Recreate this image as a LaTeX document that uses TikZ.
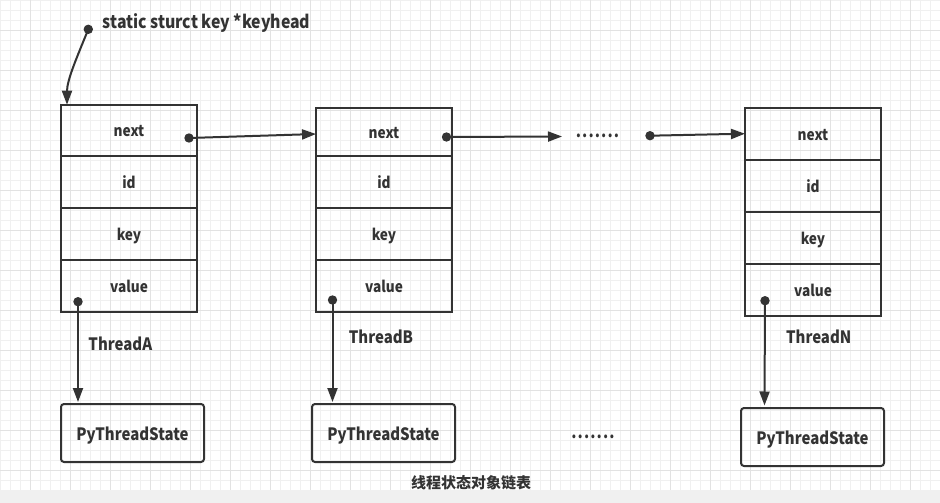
\documentclass[tikz,border=0pt]{standalone}
\usepackage{fontspec}
\setmainfont{Noto Sans CJK SC}
\newfontfamily\latinf{Noto Sans CJK SC}[FakeStretch=0.88]
\usetikzlibrary{arrows.meta}
\definecolor{linec}{HTML}{333333}
\definecolor{minorgrid}{HTML}{F0F0F0}
\definecolor{majorgrid}{HTML}{E2E2E2}
\definecolor{bandc}{HTML}{F0F0F0}
\tikzset{
  rowbox/.style={draw=linec, line width=2pt, minimum width=136pt, inner sep=0pt,
    text=linec, text height=12.6pt, text depth=0pt,
    font=\latinf\bfseries\fontsize{15.5}{18}\selectfont},
  psbox/.style={draw=linec, line width=2pt, rounded corners=3pt, minimum width=143pt,
    minimum height=58pt, inner sep=0pt, text=linec, text height=14pt, text depth=0pt,
    font=\latinf\bfseries\fontsize{17}{20}\selectfont},
  lbl/.style={text=linec, inner sep=0pt, font=\latinf\bfseries\fontsize{17}{20}\selectfont},
  arr/.style={draw=linec, line width=2pt, -{Triangle[length=14pt,width=10pt]}},
  dotc/.style={fill=linec},
}
\begin{document}
\begin{tikzpicture}[x=1pt,y=-1pt]
\useasboundingbox (0,0) rectangle (940,503);
% grid
\foreach \x in {0,10,...,940} \draw[minorgrid, line width=1pt] (\x+0.5,0) -- (\x+0.5,490);
\foreach \y in {0,10,...,490} \draw[minorgrid, line width=1pt] (0,\y+0.5) -- (940,\y+0.5);
\foreach \x in {30,70,...,940} \draw[majorgrid, line width=1pt] (\x+0.5,0) -- (\x+0.5,490);
\foreach \y in {30,70,...,490} \draw[majorgrid, line width=1pt] (0,\y+0.5) -- (940,\y+0.5);
\fill[bandc] (0,490) rectangle (940,503);

% head label
\node[lbl, anchor=west, font=\latinf\bfseries\fontsize{18}{21}\selectfont] (head) at (102.5,22.6) {static sturct key *keyhead};

% box A
\node[rowbox, minimum height=51.3pt] (a1) at (129,130.4) {next};
\node[rowbox, minimum height=52pt] (a2) at (129,182) {id};
\node[rowbox, minimum height=52pt] (a3) at (129,234) {key};
\node[rowbox, minimum height=52pt] (a4) at (129,286) {value};
% box B
\node[rowbox, minimum height=47.7pt] (b1) at (384,132.2) {next};
\node[rowbox, minimum height=51.7pt] (b2) at (384,181.9) {id};
\node[rowbox, minimum height=52pt] (b3) at (384,233.7) {key};
\node[rowbox, minimum height=52pt] (b4) at (384,285.7) {value};
% box N
\node[rowbox, minimum height=51.7pt] (n1) at (813,134.2) {next};
\node[rowbox, minimum height=52pt] (n2) at (813,186) {id};
\node[rowbox, minimum height=52pt] (n3) at (813,238) {key};
\node[rowbox, minimum height=51.7pt] (n4) at (813,289.9) {value};

% PyThreadState boxes
\node[psbox] (pa) at (132.5,433) {PyThreadState};
\node[psbox] (pb) at (383.5,433) {PyThreadState};
\node[psbox] (pn) at (812.5,437) {PyThreadState};

% thread labels
\node[lbl] (ta) at (120.3,343.5) {ThreadA};
\node[lbl] (tb) at (381,337.3) {ThreadB};
\node[lbl] (tn) at (818.7,337.3) {ThreadN};

% ellipses
\node[lbl] (e1) at (597.5,136) {.\hspace{1.1pt}.\hspace{1.1pt}.\hspace{1.1pt}.\hspace{1.1pt}.\hspace{1.1pt}.\hspace{1.1pt}.};
\node[lbl] (e2) at (593,437) {.\hspace{1.1pt}.\hspace{1.1pt}.\hspace{1.1pt}.\hspace{1.1pt}.\hspace{1.1pt}.\hspace{1.1pt}.};

% caption
\node[text=linec, inner sep=0pt, font=\bfseries\fontsize{15}{18}\selectfont] (cap) at (471,483) {线程状态对象链表};

% coordinates
\coordinate (hd) at (88.3,29.3);
\coordinate (ha) at (67,104.7);
\coordinate (dan) at (189,138);
\coordinate (tbn) at (316,134);
\coordinate (dbn) at (446.5,137);
\coordinate (fe) at (562,136.5);
\coordinate (de) at (650,135.7);
\coordinate (tnn) at (745,133.7);
\coordinate (dav) at (78,301.7);
\coordinate (dbv) at (332.5,300);
\coordinate (dnv) at (765,300.7);
\coordinate (pbt) at (332.5,402);
\coordinate (pnt) at (764.5,405.5);
\coordinate (pat) at (78,402);

% connectors
\draw[arr] (hd) .. controls (77,57) and (67,80) .. (ha);
\draw[arr] (dan) -- (tbn);
\draw[arr] (dbn) -- (fe);
\draw[arr] (de) -- (tnn);
\draw[arr] (dav) -- (pat);
\draw[arr] (dbv) -- (pbt);
\draw[arr] (dnv) -- (pnt);

% dots
\foreach \c in {hd,dan,dbn,de,dav,dbv,dnv} \fill[dotc] (\c) circle (4.7);
\end{tikzpicture}
\end{document}
